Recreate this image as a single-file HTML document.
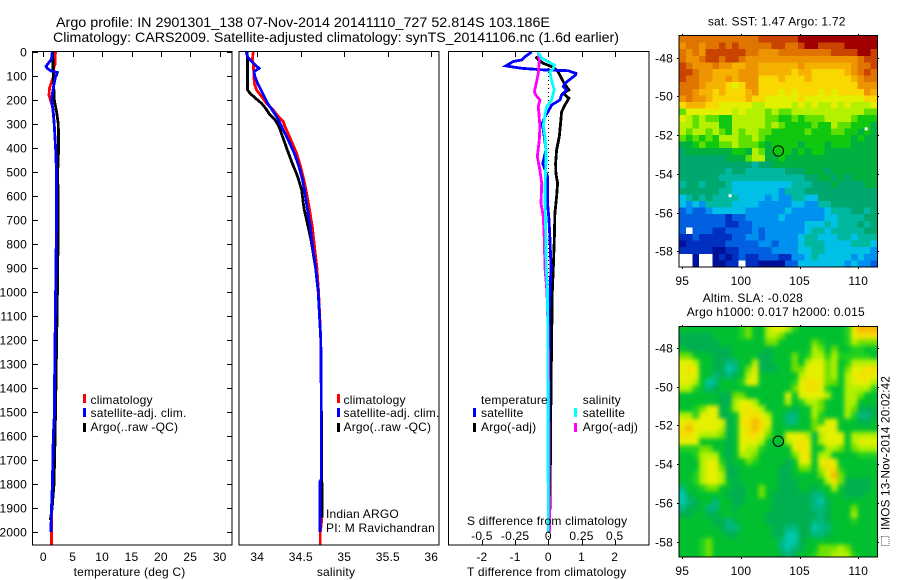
<!DOCTYPE html>
<html lang="en">
<head>
<meta charset="utf-8">
<title>Argo profile chart</title>
<style>
html,body{margin:0;padding:0;background:#fff;}
svg{display:block;}
text{font-family:"Liberation Sans",sans-serif;font-size:12px;fill:#000;letter-spacing:0.2px;}
.t14{font-size:14px;letter-spacing:0;}
.frame{fill:none;stroke:#000;stroke-width:1;shape-rendering:crispEdges;}
.prof{fill:none;stroke-width:2.8;stroke-linejoin:miter;shape-rendering:crispEdges;}
.sw{shape-rendering:crispEdges;}
</style>
</head>
<body>
<svg id="chart" xmlns="http://www.w3.org/2000/svg" width="900" height="580" viewBox="0 0 900 580">
  <defs>
    <clipPath id="clip-t"><rect x="33" y="52" width="199" height="493"/></clipPath>
    <clipPath id="clip-s"><rect x="239" y="52" width="200" height="493"/></clipPath>
    <clipPath id="clip-d"><rect x="448" y="52" width="201" height="493"/></clipPath>
    <clipPath id="clip-m1"><rect x="679.5" y="36" width="198" height="231"/></clipPath>
    <clipPath id="clip-m2"><rect x="679.5" y="326.5" width="198" height="230.5"/></clipPath>
    <filter id="smooth" filterUnits="userSpaceOnUse" x="660" y="310" width="240" height="265" color-interpolation-filters="sRGB">
      <feGaussianBlur stdDeviation="2.2"/>
    </filter>
  </defs>

  <text class="t14" x="56" y="27" textLength="494" lengthAdjust="spacingAndGlyphs">Argo profile: IN 2901301_138 07-Nov-2014 20141110_727 52.814S 103.186E</text>
  <text class="t14" x="53" y="42" textLength="566" lengthAdjust="spacingAndGlyphs">Climatology: CARS2009. Satellite-adjusted climatology: synTS_20141106.nc (1.6d earlier)</text>

  <!-- Temperature panel -->
  <g id="panel-t">
    <g clip-path="url(#clip-t)">
      <polyline id="t-clim" class="prof" stroke="#ff0000"/>
      <polyline id="t-argo" class="prof" stroke="#000000"/>
      <polyline id="t-sat" class="prof" stroke="#0000ff"/>
    </g>
    <rect class="frame" x="32.5" y="51.5" width="199.5" height="493.5"/>
    <g id="ticks-t"></g>
    <text x="129.5" y="576" text-anchor="middle">temperature (deg C)</text>
    <g>
      <rect class="sw" x="83" y="394" width="3" height="9" fill="#ff0000"/>
      <text x="90.5" y="404">climatology</text>
      <rect class="sw" x="83" y="408" width="3" height="9" fill="#0000ff"/>
      <text x="90.5" y="417">satellite-adj. clim.</text>
      <rect class="sw" x="83" y="423" width="3" height="9" fill="#000"/>
      <text x="90.5" y="431">Argo(..raw -QC)</text>
    </g>
  </g>

  <!-- Salinity panel -->
  <g id="panel-s">
    <g clip-path="url(#clip-s)">
      <polyline id="s-clim" class="prof" stroke="#ff0000"/>
      <polyline id="s-argo" class="prof" stroke="#000000"/>
      <polyline id="s-sat" class="prof" stroke="#0000ff"/>
    </g>
    <rect class="frame" x="239" y="51.5" width="200" height="493.5"/>
    <g id="ticks-s"></g>
    <text x="336" y="576" text-anchor="middle">salinity</text>
    <g>
      <rect class="sw" x="337" y="394" width="3" height="9" fill="#ff0000"/>
      <text x="343.5" y="404">climatology</text>
      <rect class="sw" x="337" y="408" width="3" height="9" fill="#0000ff"/>
      <text x="343.5" y="417">satellite-adj. clim.</text>
      <rect class="sw" x="337" y="423" width="3" height="9" fill="#000"/>
      <text x="343.5" y="431">Argo(..raw -QC)</text>
    </g>
    <text x="326" y="518">Indian ARGO</text>
    <text x="326" y="532">PI: M Ravichandran</text>
  </g>

  <!-- Difference panel -->
  <g id="panel-d">
    <line id="zero-line" stroke="#000" stroke-width="1" stroke-dasharray="1 3" shape-rendering="crispEdges"/>
    <g clip-path="url(#clip-d)">
      <polyline id="d-t-argo" class="prof" stroke="#000000"/>
      <polyline id="d-t-sat" class="prof" stroke="#0000ff"/>
      <polyline id="d-s-argo" class="prof" stroke="#ff00ff"/>
      <polyline id="d-s-sat" class="prof" stroke="#00ffff"/>
    </g>
    <rect class="frame" x="448.5" y="51.5" width="200.5" height="493.5"/>
    <g id="ticks-d"></g>
    <text x="467" y="525">S difference from climatology</text>
    <text x="467" y="576">T difference from climatology</text>
    <g>
      <text x="481" y="404">temperature</text>
      <text x="582.7" y="404">salinity</text>
      <rect class="sw" x="473" y="408" width="3" height="9" fill="#0000ff"/>
      <text x="481" y="417">satellite</text>
      <rect class="sw" x="473" y="423" width="3" height="9" fill="#000"/>
      <text x="481" y="431">Argo(-adj)</text>
      <rect class="sw" x="574" y="408" width="3" height="9" fill="#00ffff"/>
      <text x="582.7" y="417">satellite</text>
      <rect class="sw" x="574" y="423" width="3" height="9" fill="#ff00ff"/>
      <text x="582.7" y="431">Argo(-adj)</text>
    </g>
  </g>

  <!-- SST map -->
  <g>
    <text x="776.7" y="25.5" text-anchor="middle">sat. SST: 1.47 Argo: 1.72</text>
    <g id="sst-cells" clip-path="url(#clip-m1)"></g>
    <g id="sst-missing"></g>
    <rect class="frame" x="679" y="35.5" width="198.5" height="231.5"/>
    <g id="ticks-m1"></g>
    <circle id="marker-m1" r="5.2" fill="none" stroke="#000" stroke-width="1"/>
  </g>

  <!-- SLA map -->
  <g>
    <text x="702.7" y="302">Altim. SLA: -0.028</text>
    <text x="686.7" y="316">Argo h1000: 0.017 h2000: 0.015</text>
    <g clip-path="url(#clip-m2)">
      <g id="sla-cells" filter="url(#smooth)"></g>
    </g>
    <rect class="frame" x="679" y="326.5" width="198.5" height="230.5"/>
    <g id="ticks-m2"></g>
    <circle id="marker-m2" r="5.2" fill="none" stroke="#000" stroke-width="1"/>
  </g>

  <text transform="translate(889.5,530) rotate(-90)" textLength="154" lengthAdjust="spacingAndGlyphs">IMOS 13-Nov-2014 20:02:42</text>
  <rect x="881.5" y="536.5" width="7.5" height="9" fill="none" stroke="#555" stroke-width="1" stroke-dasharray="1 1" shape-rendering="crispEdges"/>
</svg>

<script>
// ---- Axis tick labels ----
const depthTicks = [0,100,200,300,400,500,600,700,800,900,1000,1100,1200,1300,1400,1500,1600,1700,1800,1900,2000];
const tempTicks = [0,5,10,15,20,25,30];
const salTicks = [34,34.5,35,35.5,36];
const tDiffTicks = [-2,-1,0,1,2];
const sDiffTicks = [-0.5,-0.25,0,0.25,0.5];
const lonTicks = [95,100,105,110];
const latTicks = [-48,-50,-52,-54,-56,-58];

// ---- Temperature profiles ----
const tClimDepth = [0,50,60,100,150,180,230,300,400,500,700,1400,1500,1600,1800,1900,2000,2054];
const tClimValue = [2.05,2.0,1.8,1.75,1.05,0.97,1.6,1.85,2.1,2.25,2.25,1.9,1.9,1.7,1.55,1.4,1.42,1.42];
const tArgoDepth = [0,100,200,250,300,400,500,700,1000,1400,1600,1800,1900,1950];
const tArgoValue = [1.6,1.7,1.87,2.27,2.55,2.6,2.45,2.55,2.4,2.15,2.0,1.82,1.5,1.2];
const tSatDepth = [0,30,50,60,70,80,85,95,100,150,200,250,300,400,500,700,1400,1500,1600,1800,1900,2000];
const tSatValue = [1.53,1.4,0.74,0.46,0.74,1.4,2.38,2.3,2.1,1.7,1.4,1.7,1.85,2.1,2.25,2.25,1.9,1.9,1.7,1.55,1.4,1.3];

// ---- Salinity profiles ----
const sClimDepth = [0,33,47,131,158,186,214,242,269,290,311,367,422,478,533,589,644,728,783,900,1000,1200,1400,1780,1790,1950,2000,2054];
const sClimValue = [33.954,33.943,33.954,33.966,33.992,34.05,34.107,34.184,34.241,34.299,34.318,34.387,34.452,34.498,34.536,34.567,34.594,34.632,34.648,34.685,34.705,34.73,34.735,34.735,34.74,34.74,34.724,34.724];
const sArgoDepth = [0,158,172,193,214,235,262,283,311,353,408,464,519,575,631,658,700,783,900,1000,1200,1400,1700,1940];
const sArgoValue = [33.885,33.889,33.916,33.981,34.05,34.096,34.146,34.203,34.249,34.291,34.345,34.402,34.464,34.51,34.529,34.54,34.567,34.617,34.67,34.7,34.73,34.735,34.74,34.745];
const sSatDepth = [0,26,47,68,82,103,131,158,186,214,242,269,297,325,367,422,478,533,589,644,728,783,900,1000,1200,1400,1780,1790,2000];
const sSatValue = [33.87,33.897,33.954,34.019,33.962,33.973,34.004,34.042,34.08,34.119,34.172,34.222,34.261,34.299,34.356,34.425,34.479,34.521,34.548,34.571,34.609,34.625,34.67,34.7,34.73,34.735,34.735,34.72,34.72];

// ---- Difference profiles ----
const dtSatDepth = [0,19,33,40,58,68,75,78,89,96,131,144,158,179,200,221,242,269,297,353,408,464,519,631,700,783,900,1000,1100,2000];
const dtSatValue = [-0.5,-0.7,-0.8,-1.06,-1.28,-0.8,-0.1,0.6,0.83,0.82,0.5,0.45,0.55,0.4,0.35,0.1,0.02,-0.1,-0.18,-0.12,-0.07,-0.17,-0.02,-0.02,0.02,0.05,0.08,0.05,0.02,0.02];
const dtArgoDepth = [19,33,47,61,75,89,110,131,158,172,193,221,249,297,353,408,464,506,547,603,672,783,900,1000,1400,1750,2000];
const dtArgoValue = [-0.38,-0.3,-0.15,0.1,0.25,0.32,0.4,0.48,0.62,0.45,0.62,0.5,0.4,0.37,0.33,0.25,0.22,0.23,0.28,0.25,0.2,0.18,0.15,0.12,0.08,0.06,0.04];
const dsSatDepth = [0,26,54,68,82,110,158,200,228,262,304,353,408,464,561,617,783,900,1000,2000];
const dsSatValue = [-0.08,-0.05,0.045,0.038,0.013,0.02,0.045,0.025,-0.013,-0.025,-0.038,-0.025,-0.018,-0.018,-0.025,-0.025,-0.018,-0.015,-0.005,0];
const dsArgoDepth = [0,33,89,124,165,179,200,228,262,311,367,436,492,547,631,686,783,900,1000,1200,2000];
const dsArgoValue = [-0.075,-0.068,-0.075,-0.088,-0.105,-0.095,-0.063,-0.075,-0.07,-0.063,-0.068,-0.083,-0.063,-0.05,-0.055,-0.038,-0.03,-0.025,-0.01,0,0.01];

// ---- Float position ----
const floatLon = 103.186;
const floatLat = -52.814;

// ---- Map grid extents ----
const lonMin = 94.74, lonMax = 111.62;
const latTop = -46.88, latBottom = -58.81;

// ---- SST cells: colour-class per cell, north to south; -1 is no data ----
const sstRows = [
[2,2,2,2,2,2,2,2,2,2,2,2,1,1,1,1,1,1,0,0,0,0,0,0,0,0,0,0,0,0],
[3,2,2,3,2,2,1,2,1,2,2,2,2,2,1,1,2,2,1,0,0,1,1,1,1,0,0,0,0,0],
[2,3,2,3,1,1,1,1,1,1,2,2,3,3,3,2,2,2,2,2,2,2,2,1,1,1,1,0,0,1],
[2,3,3,2,1,1,2,1,1,2,3,3,3,3,3,3,3,3,3,3,3,3,3,3,3,3,3,2,1,1],
[1,2,3,3,3,2,3,3,4,4,3,3,4,4,4,4,4,4,3,4,4,4,4,4,4,4,3,2,2,1],
[1,1,2,3,3,4,4,4,4,3,3,3,4,4,4,4,4,5,4,4,5,5,5,5,5,4,3,2,1,2],
[1,2,2,3,3,4,4,3,4,3,3,3,5,5,5,4,5,5,5,4,5,5,5,5,5,5,4,3,2,2],
[2,2,2,3,4,4,4,5,6,5,3,3,5,5,5,5,5,5,5,5,5,5,5,5,5,5,5,3,3,3],
[2,2,3,4,4,5,4,5,5,5,4,3,5,5,5,6,5,6,5,5,5,6,5,6,5,5,5,5,3,4],
[3,2,3,3,4,5,5,5,5,5,4,5,5,6,6,6,6,6,5,6,6,6,6,6,6,6,6,6,5,5],
[5,4,4,4,5,5,6,6,6,6,6,7,7,6,6,6,6,7,6,7,6,7,7,6,7,6,7,7,7,6],
[8,6,6,6,6,6,6,6,7,6,7,7,7,8,7,8,8,7,7,7,7,7,7,7,7,7,7,7,8,8],
[6,7,8,7,8,8,9,9,7,7,7,7,7,8,8,9,9,8,9,8,8,8,7,7,7,7,8,9,9,9],
[7,7,8,7,7,7,9,9,7,7,7,7,7,8,7,8,9,9,9,9,8,9,9,7,8,8,9,9,9,10],
[7,8,7,7,8,7,8,9,7,8,7,7,8,8,9,9,9,9,9,8,9,9,9,8,8,9,9,10,9,10],
[8,9,8,9,8,9,7,7,7,8,8,7,8,9,9,9,9,9,9,9,9,9,9,9,9,9,10,9,10,10],
[10,10,9,8,9,9,8,8,7,8,8,8,9,10,9,9,9,9,10,9,9,9,10,9,9,9,10,10,10,10],
[11,10,10,10,10,10,10,10,9,9,10,7,8,10,9,9,9,10,9,10,9,9,10,10,10,10,10,10,10,10],
[11,11,11,11,11,11,11,10,10,10,8,7,7,10,10,9,10,10,10,10,10,10,10,10,10,10,10,10,10,10],
[11,11,11,11,11,11,11,11,11,11,11,12,11,11,10,10,10,10,10,10,10,10,10,10,10,10,10,10,10,10],
[11,11,11,11,11,11,11,12,11,11,12,12,12,12,12,12,11,11,11,10,10,10,11,10,10,10,10,10,10,10],
[11,11,11,11,11,11,12,12,12,12,12,12,12,12,12,12,12,12,12,11,11,10,10,11,10,11,10,10,10,10],
[12,11,11,12,11,11,11,12,13,13,13,13,13,13,13,13,13,12,12,12,11,11,11,10,11,11,11,11,10,10],
[11,11,11,11,11,11,12,12,13,13,13,13,13,13,13,14,12,12,12,11,11,11,11,11,11,11,11,11,11,11],
[13,12,11,12,11,12,12,12,12,13,13,13,13,14,13,14,14,12,12,13,13,11,11,11,11,11,11,11,11,11],
[13,14,13,14,12,12,12,12,13,13,13,13,14,14,14,14,14,13,13,14,14,12,12,11,11,11,11,11,11,11],
[15,14,15,15,14,13,13,13,13,13,14,14,14,14,14,14,13,14,14,14,14,14,13,12,12,12,11,11,12,11],
[15,15,15,15,15,15,15,16,15,15,14,14,14,14,14,13,14,14,14,14,14,14,13,13,12,12,12,12,11,11],
[15,15,15,15,15,15,15,16,16,15,15,14,14,14,14,14,14,14,14,13,13,13,12,13,12,12,12,11,12,11],
[15,-1,15,15,15,16,16,15,15,15,15,14,15,14,14,14,14,14,14,13,12,12,13,12,12,12,12,12,11,11],
[16,16,15,16,16,16,16,16,15,15,14,14,15,14,14,14,14,14,13,12,12,13,13,13,12,12,13,12,12,12],
[17,16,16,16,16,16,16,15,15,15,15,15,14,14,15,14,14,14,13,12,12,12,13,13,13,13,12,12,12,13],
[16,16,16,16,16,17,17,16,16,15,15,15,15,15,14,14,14,14,13,13,12,12,13,13,13,13,13,13,13,14],
[-1,-1,17,-1,-1,17,16,17,16,15,16,16,15,15,15,16,16,14,14,13,12,13,13,13,13,13,14,13,14,14],
[-1,-1,17,-1,-1,17,17,16,16,-1,16,16,17,17,17,17,15,15,13,13,13,13,13,13,13,14,13,14,14,15]
];
const sstMissingLon = [110.55, 98.95];
const sstMissingLat = [-51.6, -55.05];

// ---- SLA cells: colour-class per cell, north to south ----
const slaRows = [
[3,3,3,3,3,3,3,3,3,4,5,3,3,6,7,7,6,4,3,3,3,3,3,3,3,4,8,9,9,9],
[2,2,2,2,2,3,3,3,3,4,5,3,3,6,6,5,3,3,3,3,3,3,3,3,3,4,7,8,8,8],
[2,2,2,2,2,2,3,3,3,3,3,3,3,5,5,3,3,3,3,3,5,4,3,3,3,4,6,5,5,5],
[3,2,2,2,2,2,2,2,3,3,3,3,3,2,3,3,3,3,3,3,6,5,3,5,3,3,4,4,3,3],
[5,5,3,3,3,2,2,2,3,3,3,3,2,2,3,3,3,5,3,4,6,6,4,6,4,4,4,4,4,3],
[7,7,6,3,3,2,2,1,1,3,3,6,2,2,3,3,3,5,3,6,7,7,5,6,3,4,6,6,6,6],
[7,8,7,3,3,2,2,0,1,3,5,7,2,2,2,3,3,5,5,7,7,7,5,6,3,5,7,7,8,8],
[7,7,7,3,3,1,2,1,2,3,6,7,3,3,3,3,3,3,6,7,7,7,5,6,3,6,7,8,8,7],
[7,7,6,3,0,1,3,3,3,4,7,7,3,3,3,3,3,4,7,8,8,7,5,5,3,6,7,7,7,6],
[6,6,4,3,1,2,3,3,3,3,3,3,3,3,3,3,3,5,7,8,8,7,4,3,3,6,6,6,6,4],
[3,3,3,3,3,3,2,2,5,5,3,3,3,3,3,3,7,3,7,7,7,7,6,3,3,6,6,5,3,3],
[3,3,3,3,3,3,2,2,6,7,7,6,3,3,3,3,6,3,4,6,6,5,3,3,3,6,6,3,3,3],
[3,3,4,5,7,7,2,3,6,7,8,7,6,3,3,3,3,2,3,3,6,5,3,3,3,6,5,2,2,2],
[6,6,4,7,7,7,2,2,3,7,8,8,7,6,3,3,1,1,3,3,6,4,3,3,3,6,4,1,1,2],
[7,8,7,7,7,7,7,2,3,8,8,9,8,7,3,3,1,1,3,3,5,4,7,7,3,3,3,2,2,3],
[8,9,7,7,7,7,6,2,3,7,8,9,8,6,3,3,3,3,3,3,5,7,7,7,3,3,3,3,3,3],
[8,8,7,6,6,6,5,2,3,7,8,8,7,5,3,3,7,7,7,6,2,6,7,7,7,3,6,6,6,6],
[7,7,7,3,3,3,3,2,3,7,7,7,6,3,3,3,6,7,8,7,3,6,7,7,7,3,6,7,7,7],
[4,4,4,5,5,3,3,2,3,7,6,6,4,3,3,3,3,7,8,7,3,3,6,6,5,3,5,6,6,6],
[3,3,4,6,6,6,3,2,3,6,6,5,3,3,3,3,3,5,7,8,3,6,6,3,3,3,3,4,4,4],
[3,3,3,6,7,7,4,2,3,3,5,4,3,3,3,3,2,3,7,7,3,7,8,7,3,3,3,3,3,3],
[3,3,3,6,7,7,5,2,2,3,3,3,3,3,3,2,2,3,5,5,3,6,8,8,4,3,3,3,3,3],
[3,3,4,6,7,7,6,2,2,3,3,3,3,3,3,2,2,3,3,3,3,5,7,9,5,3,3,3,3,3],
[3,3,4,6,7,7,6,3,2,3,3,3,3,3,3,2,2,2,3,3,3,3,6,8,5,2,2,2,2,3],
[1,3,3,4,5,5,3,3,2,2,3,3,5,3,3,2,2,2,3,3,2,3,3,6,3,2,2,2,2,3],
[0,2,3,3,3,3,3,2,2,2,3,3,5,3,2,2,2,2,2,2,1,1,3,3,3,2,2,2,3,3],
[0,1,2,3,3,1,3,3,2,2,3,3,3,3,2,2,2,2,2,2,1,0,2,3,3,3,3,3,3,3],
[1,2,2,3,1,1,3,3,2,3,3,3,3,3,2,2,2,2,2,2,1,1,2,3,3,3,5,3,3,3],
[2,2,3,3,2,2,3,3,3,3,3,3,3,2,2,2,2,2,2,2,2,1,2,3,3,3,6,3,3,3],
[3,3,3,3,3,2,2,1,2,3,3,3,3,2,2,2,2,2,2,2,1,1,2,3,3,3,4,3,3,3],
[3,3,3,3,3,3,2,1,1,3,3,3,3,3,2,2,1,1,2,2,0,1,1,3,3,3,3,3,3,3],
[3,3,3,3,3,3,3,2,2,3,3,3,3,3,2,2,0,0,2,2,1,1,2,3,3,3,3,3,3,3],
[3,3,3,4,5,3,3,3,3,3,3,3,3,3,3,1,0,0,2,3,3,3,3,3,3,3,3,3,3,3],
[3,3,3,4,5,3,3,3,3,3,3,3,3,3,3,1,0,1,2,3,3,5,5,5,6,5,3,3,3,3],
[3,3,3,4,5,3,3,3,3,3,3,3,3,3,3,2,1,2,3,3,4,5,5,6,6,6,4,3,3,3]
];

// ---- Colour ramps ----
const sstColors = ['#a00000','#c84400','#e07400','#ee9400','#f6b200','#f8d800','#e2f000','#b4f000','#60e000','#10c810','#00b040','#00a870','#00b8a0','#00c0e8','#0090f0','#0060e0','#0030c0','#001098'];
const slaColors = ['#00c8b0','#00b880','#00b050','#00c030','#20d020','#70e000','#b0f000','#e4f000','#f4e000','#f8b800'];

// ---- Axis functions ----
const yDepth = d => 52 + 0.24 * d;
const xTemp = v => 43.3 + 5.88 * v;
const xSal = v => 257.3 + 87 * (v - 34);
const xTDiff = v => 548.3 + 33.2 * v;
const xSDiff = v => 548.3 + 132.8 * v;
const xLon = v => 682.3 + 11.73 * (v - 95);
const yLatA = v => 57.7 + 19.36 * (-48 - v);
const yLatB = v => 347.7 + 19.43 * (-48 - v);

const NS = 'http://www.w3.org/2000/svg';

function plot(id, depths, values, xFn) {
  const pts = depths.map((d, i) => xFn(values[i]).toFixed(1) + ',' + yDepth(d).toFixed(1));
  document.getElementById(id).setAttribute('points', pts.join(' '));
}
plot('t-clim', tClimDepth, tClimValue, xTemp);
plot('t-argo', tArgoDepth, tArgoValue, xTemp);
plot('t-sat', tSatDepth, tSatValue, xTemp);
plot('s-clim', sClimDepth, sClimValue, xSal);
plot('s-argo', sArgoDepth, sArgoValue, xSal);
plot('s-sat', sSatDepth, sSatValue, xSal);
plot('d-t-argo', dtArgoDepth, dtArgoValue, xTDiff);
plot('d-t-sat', dtSatDepth, dtSatValue, xTDiff);
plot('d-s-argo', dsArgoDepth, dsArgoValue, xSDiff);
plot('d-s-sat', dsSatDepth, dsSatValue, xSDiff);

const zero = document.getElementById('zero-line');
zero.setAttribute('x1', xTDiff(0));
zero.setAttribute('x2', xTDiff(0));
zero.setAttribute('y1', yDepth(0));
zero.setAttribute('y2', yDepth(2054));

function tick(group, x1, y1, x2, y2) {
  const el = document.createElementNS(NS, 'line');
  
  
  el.setAttribute('x1', x1);
  el.setAttribute('y1', y1);
  el.setAttribute('x2', x2);
  el.setAttribute('y2', y2);
  el.setAttribute('stroke', '#000');
  el.setAttribute('shape-rendering', 'crispEdges');
  group.appendChild(el);
}
function label(group, x, y, anchor, str) {
  const el = document.createElementNS(NS, 'text');
  
  
  el.setAttribute('x', x);
  el.setAttribute('y', y);
  el.setAttribute('text-anchor', anchor);
  el.textContent = str;
  group.appendChild(el);
}

const gT = document.getElementById('ticks-t');
depthTicks.forEach(d => {
  const y = Math.round(yDepth(d)) + 0.5;
  tick(gT, 33, y, 38, y);
  tick(gT, 227, y, 232, y);
  label(gT, 27, y + 4, 'end', String(d));
});
tempTicks.forEach(v => {
  const x = Math.round(xTemp(v)) + 0.5;
  tick(gT, x, 52, x, 57);
  label(gT, xTemp(v), 561, 'middle', String(v));
});

const gS = document.getElementById('ticks-s');
salTicks.forEach(v => {
  const x = Math.round(xSal(v)) + 0.5;
  tick(gS, x, 52, x, 57);
  label(gS, xSal(v), 561, 'middle', String(v));
});

const gD = document.getElementById('ticks-d');
tDiffTicks.forEach(v => {
  const x = Math.round(xTDiff(v)) + 0.5;
  tick(gD, x, 52, x, 57);
  tick(gD, x, 540, x, 545);
  label(gD, xTDiff(v), 561, 'middle', String(v));
});
sDiffTicks.forEach(v => {
  label(gD, xSDiff(v), 540, 'middle', String(v));
});

function mapTicks(group, yFn, top, bottom, labelY) {
  lonTicks.forEach(v => {
    const x = Math.round(xLon(v)) + 0.5;
    tick(group, x, top - 2, x, top);
    tick(group, x, bottom, x, bottom + 2);
    label(group, xLon(v), labelY, 'middle', String(v));
  });
  latTicks.forEach(v => {
    const y = Math.round(yFn(v)) + 0.5;
    tick(group, 677, y, 679, y);
    tick(group, 877, y, 879, y);
    label(group, 673, y + 4, 'end', String(v));
  });
}
mapTicks(document.getElementById('ticks-m1'), yLatA, 36, 267, 285);
mapTicks(document.getElementById('ticks-m2'), yLatB, 327, 557, 575);

const dLon = (lonMax - lonMin) / sstRows[0].length;
const dLatA = (latTop - latBottom) / sstRows.length;
const dLatB = (latTop - latBottom) / slaRows.length;

const gSst = document.getElementById('sst-cells');
sstRows.forEach((row, r) => {
  row.forEach((c, i) => {
    const x0 = xLon(lonMin + i * dLon), x1 = xLon(lonMin + (i + 1) * dLon);
    const y0 = yLatA(latTop - r * dLatA), y1 = yLatA(latTop - (r + 1) * dLatA);
    const el = document.createElementNS(NS, 'rect');
    
    
    el.setAttribute('x', x0.toFixed(2));
    el.setAttribute('y', y0.toFixed(2));
    el.setAttribute('width', (x1 - x0 + 0.4).toFixed(2));
    el.setAttribute('height', (y1 - y0 + 0.4).toFixed(2));
    el.setAttribute('fill', c < 0 ? '#ffffff' : sstColors[c]);
    el.setAttribute('shape-rendering', 'crispEdges');
    gSst.appendChild(el);
  });
});

const gMissing = document.getElementById('sst-missing');
sstMissingLon.forEach((lon, i) => {
  const el = document.createElementNS(NS, 'rect');
  
  
  el.setAttribute('x', xLon(lon).toFixed(1));
  el.setAttribute('y', yLatA(sstMissingLat[i]).toFixed(1));
  el.setAttribute('width', 3);
  el.setAttribute('height', 3);
  el.setAttribute('fill', '#ffffff');
  gMissing.appendChild(el);
});

const gSla = document.getElementById('sla-cells');
slaRows.forEach((row, r) => {
  row.forEach((c, i) => {
    let x0 = xLon(lonMin + i * dLon), x1 = xLon(lonMin + (i + 1) * dLon);
    let y0 = yLatB(latTop - r * dLatB), y1 = yLatB(latTop - (r + 1) * dLatB);
    if (i === 0) x0 -= 10;
    if (i === row.length - 1) x1 += 10;
    if (r === 0) y0 -= 10;
    if (r === slaRows.length - 1) y1 += 10;
    const el = document.createElementNS(NS, 'rect');
    
    
    el.setAttribute('x', x0.toFixed(2));
    el.setAttribute('y', y0.toFixed(2));
    el.setAttribute('width', (x1 - x0 + 0.5).toFixed(2));
    el.setAttribute('height', (y1 - y0 + 0.5).toFixed(2));
    el.setAttribute('fill', slaColors[c]);
    gSla.appendChild(el);
  });
});

const m1 = document.getElementById('marker-m1');
m1.setAttribute('cx', xLon(floatLon));
m1.setAttribute('cy', yLatA(floatLat));
const m2 = document.getElementById('marker-m2');
m2.setAttribute('cx', xLon(floatLon));
m2.setAttribute('cy', yLatB(floatLat));
</script>
</body>
</html>
